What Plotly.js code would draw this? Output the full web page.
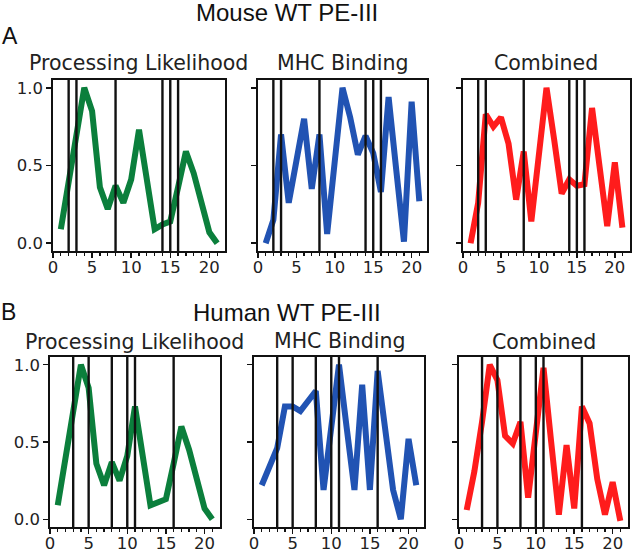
<!DOCTYPE html>
<html>
<head>
<meta charset="utf-8">
<script src="https://cdn.plot.ly/plotly-3.0.1.min.js"></script>
<style>html,body{margin:0;padding:0;background:#fff;}#chart{width:633px;height:555px;}</style>
</head>
<body>
<div id="chart"></div>
<script>
// ---- data ----
const positions = [1,2,3,4,5,6,7,8,9,10,11,12,13,14,15,16,17,18,19,20,21];

const procMouse = [0.09,0.38,0.72,1.0,0.85,0.36,0.22,0.37,0.26,0.41,0.73,0.40,0.09,0.12,0.14,0.36,0.59,0.45,0.24,0.07,0.0];
const mhcMouse  = [0.0,0.15,0.70,0.26,0.53,0.80,0.35,0.70,0.06,0.53,1.0,0.81,0.57,0.69,0.58,0.33,0.94,0.47,0.01,0.91,0.27];
const combMouse = [0.0,0.26,0.83,0.75,0.81,0.64,0.28,0.59,0.14,0.57,1.0,0.67,0.32,0.41,0.37,0.38,0.87,0.49,0.11,0.52,0.10];

const procHuman = [0.09,0.38,0.72,1.0,0.85,0.36,0.22,0.37,0.25,0.41,0.73,0.40,0.09,0.11,0.13,0.36,0.60,0.45,0.24,0.07,0.0];
const mhcHuman  = [0.22,0.34,0.46,0.73,0.73,0.70,0.77,0.83,0.19,0.60,1.0,0.59,0.19,0.87,0.19,0.96,0.57,0.19,0.0,0.52,0.22];
const combHuman = [0.06,0.31,0.63,1.0,0.90,0.54,0.49,0.63,0.14,0.59,0.98,0.50,0.03,0.48,0.07,0.73,0.62,0.26,0.03,0.24,-0.01];

const mouseMarks = [2,3,8,14,15,16];
const humanMarks = [3,5,8,10,11,16];

const rowTitles = ["Mouse WT PE-III", "Human WT PE-III"];
const rowLetters = ["A", "B"];
const panelTitles = ["Processing Likelihood", "MHC Binding", "Combined"];
const xTicks = [0,5,10,15,20];
const yTicks = [0,0.5,1.0];

// ---- layout helpers ----
const W = 633, H = 555;
const px = v => v / W;
const py = v => 1 - v / H;

const colors = ["#0b7f3c", "#2153b3", "#ff1c1c"];
const panels = [
  {x:[53,225],  y:[80,251],  data:procMouse, c:0, marks:mouseMarks, ylab:true},
  {x:[258,427], y:[80,251],  data:mhcMouse,  c:1, marks:mouseMarks, ylab:false},
  {x:[463,630], y:[80,251],  data:combMouse, c:2, marks:mouseMarks, ylab:false},
  {x:[50,220],  y:[357,527], data:procHuman, c:0, marks:humanMarks, ylab:true},
  {x:[254,424], y:[357,527], data:mhcHuman,  c:1, marks:humanMarks, ylab:false},
  {x:[459,628], y:[357,527], data:combHuman, c:2, marks:humanMarks, ylab:false}
];

const tickFont = {family:"DejaVu Sans", size:16.5, color:"#222"};
const traces = [];
const shapes = [];
const layout = {
  width: W, height: H,
  margin: {l:0, r:0, t:0, b:0},
  paper_bgcolor: "#fff", plot_bgcolor: "#fff",
  showlegend: false,
  annotations: [],
  shapes: shapes
};

panels.forEach((p, i) => {
  const n = i + 1;
  const xa = n === 1 ? "xaxis" : "xaxis" + n;
  const ya = n === 1 ? "yaxis" : "yaxis" + n;
  const xr = n === 1 ? "x" : "x" + n;
  const yr = n === 1 ? "y" : "y" + n;
  layout[xa] = {
    domain: [px(p.x[0]), px(p.x[1])],
    anchor: yr, range: [0, 22],
    tickvals: xTicks, ticks: "outside", ticklen: 5, tickwidth: 1.5, tickcolor: "#111",
    ticklabelstandoff: -5,
    minor: {tickvals: positions.filter(v => v % 5 !== 0), ticks: "outside", ticklen: 3, tickwidth: 1.2, tickcolor: "#111"},
    showline: true, mirror: true, linecolor: "#111", linewidth: 1.8,
    showgrid: false, zeroline: false, tickfont: tickFont, fixedrange: true
  };
  layout[ya] = {
    domain: [py(p.y[1]), py(p.y[0])],
    anchor: xr, range: [-0.05, 1.05],
    tickvals: yTicks, tickformat: ".1f", ticks: "outside", ticklen: 5, tickwidth: 1.5, tickcolor: "#111",
    showticklabels: p.ylab,
    showline: true, mirror: true, linecolor: "#111", linewidth: 1.8,
    showgrid: false, zeroline: false, tickfont: tickFont, fixedrange: true
  };
  p.marks.forEach(m => {
    shapes.push({type: "line", xref: xr, yref: yr + " domain", x0: m, x1: m, y0: 0, y1: 1,
                 line: {color: "#111", width: 2.4}, layer: "above"});
  });
  traces.push({
    x: positions, y: p.data, xaxis: xr, yaxis: yr,
    type: "scatter", mode: "lines",
    line: {color: colors[p.c], width: 6, shape: "linear"},
    hoverinfo: "skip", cliponaxis: false
  });
});

// row titles and letters
const rowTitleY = [12.5, 312];
const letterPos = [[9.5, 35.5], [8, 312]];
rowTitles.forEach((t, r) => {
  layout.annotations.push({text: t, xref: "paper", yref: "paper", x: px(287), y: py(rowTitleY[r]),
    xanchor: "center", yanchor: "middle", showarrow: false,
    font: {family: "Liberation Sans, Arial", size: 24, color: "#111"}});
  layout.annotations.push({text: rowLetters[r], xref: "paper", yref: "paper",
    x: px(letterPos[r][0]), y: py(letterPos[r][1]),
    xanchor: "center", yanchor: "middle", showarrow: false,
    font: {family: "Liberation Sans, Arial", size: 23, color: "#111"}});
});

// panel titles
const subPos = [[138,63],[342,63],[546,63],[134,342],[339,341],[544,342]];
subPos.forEach((s, i) => {
  layout.annotations.push({text: panelTitles[i % 3], xref: "paper", yref: "paper",
    x: px(s[0]), y: py(s[1]), xanchor: "center", yanchor: "middle", showarrow: false,
    font: {family: "DejaVu Sans", size: 20.5, color: "#222"}});
});

Plotly.newPlot("chart", traces, layout, {staticPlot: true, displayModeBar: false});
</script>
</body>
</html>
